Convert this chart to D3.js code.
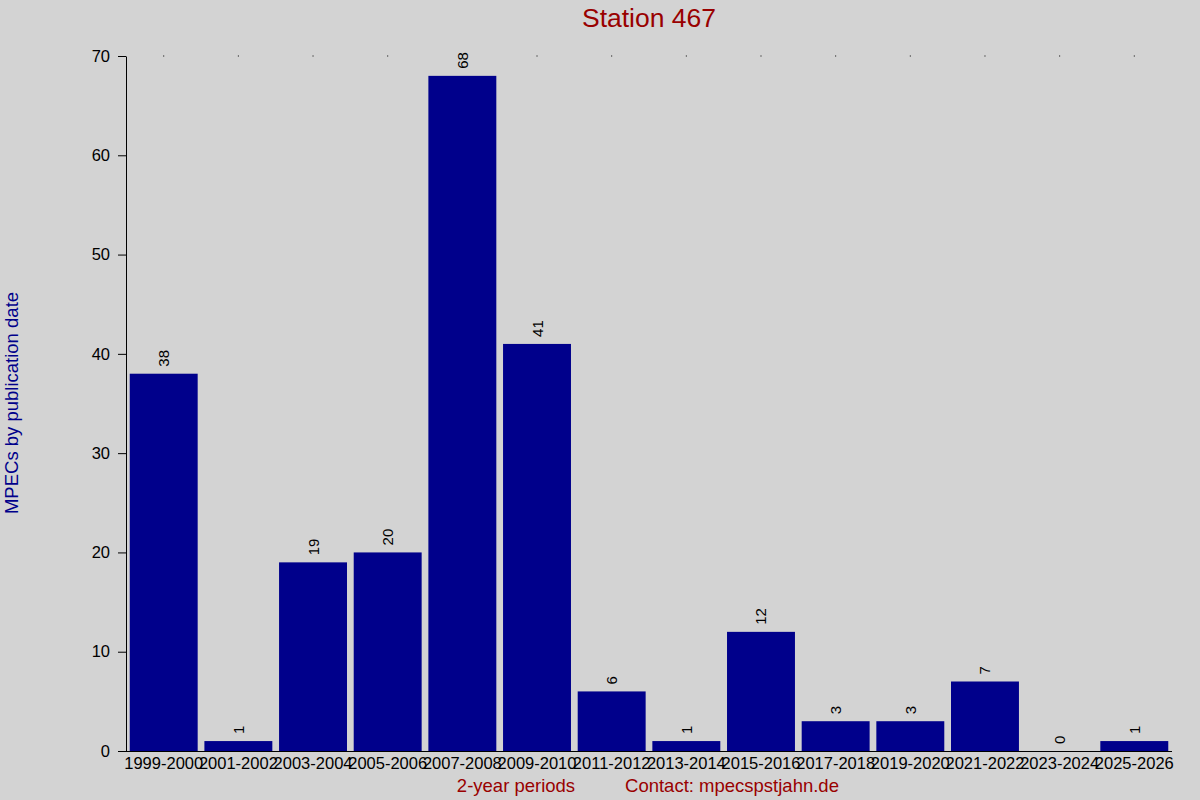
<!DOCTYPE html>
<html>
<head>
<meta charset="utf-8">
<script src="https://cdn.jsdelivr.net/npm/d3@7"></script>
<style>
  body { margin: 0; background: #d3d3d3; }
  svg { display: block; font-family: "Liberation Sans", Arial, sans-serif; }
</style>
</head>
<body>
<div id="chart"></div>
<script>
// periods and counts
const periods = ['1999-2000', '2001-2002', '2003-2004', '2005-2006', '2007-2008', '2009-2010', '2011-2012',
  '2013-2014', '2015-2016', '2017-2018', '2019-2020', '2021-2022', '2023-2024', '2025-2026']
const counts = [38, 1, 19, 20, 68, 41, 6, 1, 12, 3, 3, 7, 0, 1]
const yTicks = [0, 10, 20, 30, 40, 50, 60, 70]

const width = 1200
const height = 800
const margin = { top: 56, right: 28, bottom: 49, left: 126 }
const font = '"Liberation Sans", Arial, sans-serif'

const svg = d3.select('#chart').append('svg')
  .attr('width', width)
  .attr('height', height)

svg.append('rect').attr('width', width).attr('height', height).attr('fill', '#d3d3d3')

const x = d3.scaleBand()
  .domain(periods)
  .range([margin.left, width - margin.right])
  .paddingInner(0.09)
  .paddingOuter(0.05)

const y = d3.scaleLinear()
  .domain([0, 70])
  .range([height - margin.bottom, margin.top])

// bars
svg.append('g')
  .selectAll('rect')
  .data(counts)
  .join('rect')
  .attr('x', (d, i) => x(periods[i]))
  .attr('y', d => y(d))
  .attr('width', x.bandwidth())
  .attr('height', d => y(0) - y(d))
  .attr('fill', '#00008b')

// value labels, rotated
svg.append('g')
  .selectAll('text')
  .data(counts)
  .join('text')
  .attr('transform', (d, i) => `translate(${x(periods[i]) + x.bandwidth() / 2 + 5.5},${y(d) - 7}) rotate(-90)`)
  .attr('font-size', 15)
  .attr('fill', '#000')
  .text(d => d)

// small dots along the top
svg.append('g')
  .selectAll('rect')
  .data(periods)
  .join('rect')
  .attr('x', d => x(d) + x.bandwidth() / 2 - 0.5)
  .attr('y', margin.top - 0.5)
  .attr('width', 1)
  .attr('height', 1)
  .attr('fill', '#000')

// y axis
const yAxis = svg.append('g')
  .attr('transform', `translate(${margin.left},0)`)
  .call(d3.axisLeft(y).tickValues(yTicks).tickSize(8).tickPadding(8).tickSizeOuter(0))
yAxis.select('.domain').attr('stroke', '#000')
yAxis.selectAll('text').attr('font-size', 16.5).attr('font-family', font).attr('fill', '#000')

// x axis
const xAxis = svg.append('g')
  .attr('transform', `translate(0,${y(0)})`)
  .call(d3.axisBottom(x).tickSize(0).tickPadding(6).tickSizeOuter(0))
xAxis.select('.domain').remove()
xAxis.selectAll('text').attr('font-size', 16.5).attr('font-family', font).attr('fill', '#000')
svg.append('line')
  .attr('x1', margin.left - 8).attr('x2', width - margin.right)
  .attr('y1', y(0) + 0.5).attr('y2', y(0) + 0.5)
  .attr('stroke', '#000')

// title and axis labels
svg.append('text')
  .attr('x', (margin.left + width - margin.right) / 2)
  .attr('y', 27)
  .attr('text-anchor', 'middle')
  .attr('font-size', 26.5)
  .attr('fill', '#990000')
  .text('Station 467')

svg.append('text')
  .attr('transform', `translate(18,403) rotate(-90)`)
  .attr('text-anchor', 'middle')
  .attr('font-size', 18.5)
  .attr('fill', '#00008b')
  .text('MPECs by publication date')

svg.append('text')
  .attr('x', 516)
  .attr('y', 792)
  .attr('text-anchor', 'middle')
  .attr('font-size', 18.5)
  .attr('fill', '#990000')
  .text('2-year periods')

svg.append('text')
  .attr('x', 732)
  .attr('y', 792)
  .attr('text-anchor', 'middle')
  .attr('font-size', 18.5)
  .attr('fill', '#990000')
  .text('Contact: mpecspstjahn.de')
</script>
</body>
</html>
